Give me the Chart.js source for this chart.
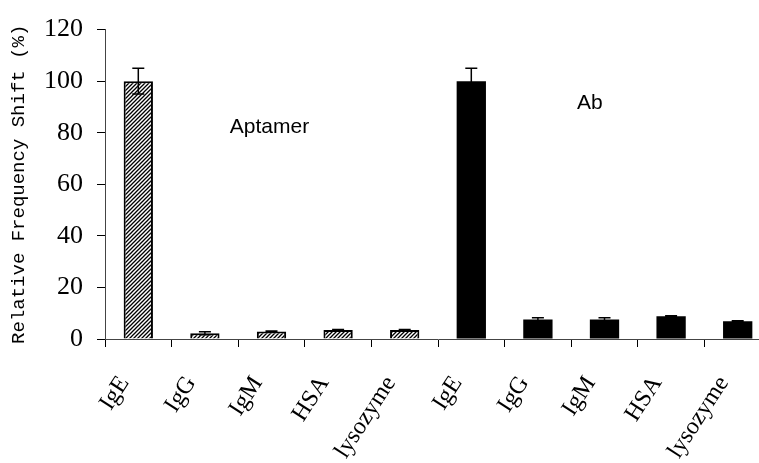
<!DOCTYPE html>
<html>
<head>
<meta charset="utf-8">
<script src="https://cdn.jsdelivr.net/npm/chart.js@4/dist/chart.umd.min.js"></script>
<style>
  html, body { margin: 0; padding: 0; background: #fff; overflow: hidden; }
  #box { width: 771px; height: 463px; }
</style>
</head>
<body>
<div id="box"><canvas id="shiftChart"></canvas></div>
<script>
// categories
const proteins = ["IgE", "IgG", "IgM", "HSA", "lysozyme"];
// relative frequency shift (%), aptamer sensor then antibody sensor
const aptamerShift = [100, 2.2, 2.9, 3.5, 3.5];
const aptamerErr = [5, 0.6, 0.2, 0.2, 0.2];
const abShift = [100, 7.6, 7.6, 8.8, 6.9];
const abErr = [5, 0.6, 0.6, 0.2, 0.2];
const yTicks = [0, 20, 40, 60, 80, 100, 120];
// group names drawn inside the plot: [label, category position, value]
const groupNotes = [["Aptamer", 1.97, 82], ["Ab", 6.78, 91.5]];

const CHART = document.getElementById("shiftChart");

function hatch() {
  let c = document.createElement("canvas");
  c.width = 4;
  c.height = 4;
  let g = c.getContext("2d");
  g.fillStyle = "#fff";
  g.fillRect(0, 0, 4, 4);
  g.strokeStyle = "#000";
  g.lineWidth = 1.3;
  g.beginPath();
  g.moveTo(-1, 5); g.lineTo(5, -1);
  g.moveTo(-1, 1); g.lineTo(1, -1);
  g.moveTo(3, 5); g.lineTo(5, 3);
  g.stroke();
  return g.createPattern(c, "repeat");
}

const labels = proteins.concat(proteins);
const values = aptamerShift.concat(abShift);
const errors = aptamerErr.concat(abErr);
const pat = hatch();
const fills = values.map((v, i) => i < aptamerShift.length ? pat : "#000");

const errorBars = {
  id: "errorBars",
  afterDatasetsDraw(chart) {
    let ctx = chart.ctx;
    let meta = chart.getDatasetMeta(0);
    let y = chart.scales.y;
    ctx.save();
    ctx.strokeStyle = "#000";
    ctx.lineWidth = 1.5;
    meta.data.forEach((bar, i) => {
      let top = y.getPixelForValue(values[i] + errors[i]);
      let bot = y.getPixelForValue(values[i] - errors[i]);
      ctx.beginPath();
      ctx.moveTo(bar.x, top); ctx.lineTo(bar.x, bot);
      ctx.moveTo(bar.x - 6, top); ctx.lineTo(bar.x + 6, top);
      ctx.moveTo(bar.x - 6, bot); ctx.lineTo(bar.x + 6, bot);
      ctx.stroke();
    });
    ctx.fillStyle = "#000";
    ctx.font = "21px 'Liberation Sans', Arial, sans-serif";
    ctx.textAlign = "center";
    ctx.textBaseline = "middle";
    groupNotes.forEach(n => {
      ctx.fillText(n[0], chart.scales.x.getPixelForValue(n[1]), y.getPixelForValue(n[2]));
    });
    ctx.restore();
  }
};

let shiftChart = new Chart(CHART, {
  type: "bar",
  data: {
    labels: labels,
    datasets: [
      {
        label: "Relative Frequency Shift",
        data: values,
        backgroundColor: fills,
        borderColor: "#000",
        borderWidth: values.map((v, i) => i < aptamerShift.length ? 2 : 0),
        barPercentage: 0.44,
        categoryPercentage: 1,
      },
    ],
  },
  options: {
    animation: false,
    responsive: true,
    maintainAspectRatio: false,
    layout: { padding: { top: 25, left: 0, right: 0, bottom: 0 } },
    plugins: { legend: { display: false }, tooltip: { enabled: false } },
    scales: {
      x: {
        offset: true,
        grid: { offset: true, drawOnChartArea: false, tickLength: 8, color: "#000" },
        border: { color: "#444", width: 1 },
        ticks: {
          color: "#000",
          font: { family: "'Liberation Serif', 'Times New Roman', serif", size: 24 },
          minRotation: 57,
          maxRotation: 57,
          padding: 24,
          labelOffset: -14,
          autoSkip: false,
        },
        afterFit(scale) {
          scale.height = 124;
          scale.paddingLeft = 0;
          scale.paddingRight = 0;
        },
      },
      y: {
        min: 0,
        max: 120,
        afterBuildTicks(scale) { scale.ticks = yTicks.map(v => ({ value: v })); },
        grid: { drawOnChartArea: false, tickLength: 8, color: "#000" },
        border: { color: "#444", width: 1 },
        ticks: {
          color: "#000",
          font: { family: "'Liberation Serif', 'Times New Roman', serif", size: 26 },
          padding: 14,
        },
        title: {
          display: true,
          text: "Relative Frequency Shift (%)",
          color: "#000",
          font: { family: "'Liberation Mono', 'DejaVu Sans Mono', monospace", size: 19 },
          padding: { top: 8, bottom: 0 },
        },
        afterFit(scale) { scale.width = 105; },
      },
    },
  },
  plugins: [errorBars],
});
</script>
</body>
</html>
